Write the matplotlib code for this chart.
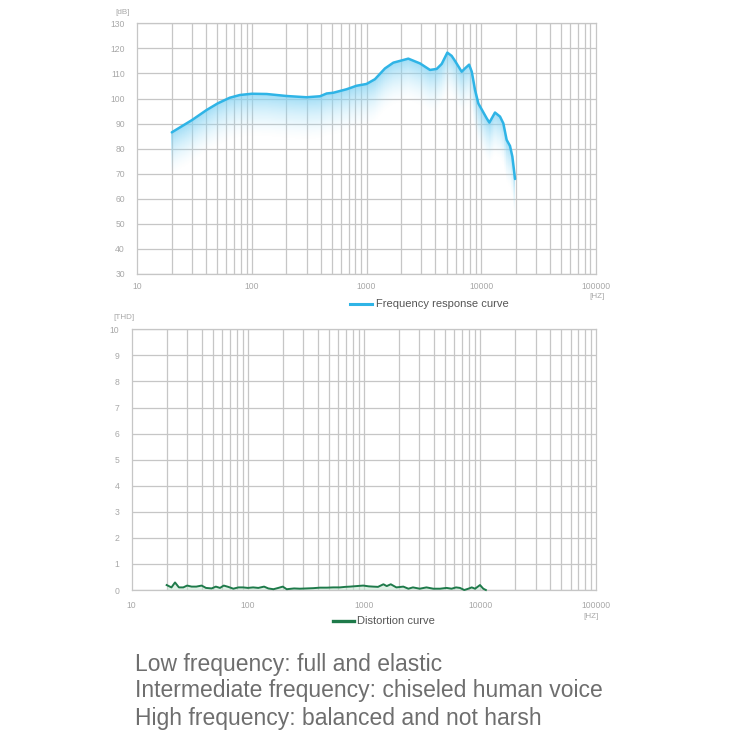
import numpy as np
import matplotlib
matplotlib.use("Agg")
import matplotlib.pyplot as plt
from matplotlib.colors import LinearSegmentedColormap

plt.rcParams['font.family'] = ['Liberation Sans', 'DejaVu Sans']

# ---- data ----
fr_freq = [20, 23.6, 30, 40.2, 50.5, 64, 78.5, 100, 134.6, 201, 300, 393, 449, 513,
           671, 820, 1000, 1185, 1449, 1714, 2317, 2930, 3582, 4095, 4532, 5073,
           5537, 5920, 6770, 7230, 7860, 8290, 8855, 9470, 11190, 11810, 13220,
           14620, 15630, 16710, 17870, 18750, 19770]
fr_db = [86.5, 88.5, 91.4, 95.4, 98.1, 100.3, 101.4, 101.9, 101.8, 101.0, 100.5, 100.9,
         102.0, 102.3, 103.7, 105.1, 105.8, 107.7, 112.0, 114.3, 115.9, 114.0, 111.4,
         111.8, 113.8, 118.3, 117.0, 115.0, 110.7, 112.0, 113.5, 110.7, 103.4, 98.0,
         92.1, 90.4, 94.4, 92.8, 90.1, 83.5, 81.1, 76.8, 67.9]

thd_freq = [20, 22, 23.6, 25.5, 27.8, 30, 32.8, 36, 40, 43.6, 48.8, 53, 57.6, 62, 67.8,
            75, 83, 91, 100, 111, 123, 138, 150, 166, 183, 200, 216, 250, 281, 320, 365,
            418, 480, 544, 620, 690, 757, 862, 985, 1100, 1200, 1320, 1470, 1570, 1700,
            1900, 2180, 2410, 2640, 3020, 3450, 3950, 4520, 5140, 5680, 6200, 6700, 7300,
            7920, 8460, 9040, 9970, 10640, 11200]
thd_val = [0.19, 0.10, 0.29, 0.10, 0.10, 0.17, 0.13, 0.13, 0.17, 0.08, 0.06, 0.13, 0.08,
           0.17, 0.12, 0.05, 0.10, 0.10, 0.08, 0.10, 0.08, 0.13, 0.06, 0.03, 0.08, 0.13,
           0.03, 0.06, 0.05, 0.06, 0.07, 0.09, 0.09, 0.10, 0.10, 0.12, 0.13, 0.15, 0.17,
           0.14, 0.13, 0.12, 0.22, 0.15, 0.22, 0.10, 0.13, 0.05, 0.10, 0.05, 0.10, 0.05,
           0.05, 0.08, 0.05, 0.10, 0.08, 0.0, 0.05, 0.10, 0.05, 0.19, 0.05, 0.0]

x_ticks = [10, 100, 1000, 10000, 100000]
x_tick_labels = ["10", "100", "1000", "10000", "100000"]
fr_yticks = list(range(30, 131, 10))
thd_yticks = list(range(0, 11, 1))

text_lines = ["Low frequency: full and elastic",
              "Intermediate frequency: chiseled human voice",
              "High frequency: balanced and not harsh"]

# ---- style ----
GRID = "#c6c6c6"
TICK = "#a8a8a8"
BLUE = "#2fb4e6"
GREEN = "#1e7a4a"

fig = plt.figure(figsize=(7.5, 7.5), dpi=100)
W = H = 750.0


def make_axes(l, t, r, b):
    return fig.add_axes([l / W, 1 - b / H, (r - l) / W, (b - t) / H])


def style(ax, ymin, ymax, yticks, xpad):
    ax.set_xscale("log")
    ax.set_xlim(10, 100000)
    ax.set_ylim(ymin, ymax)
    minor = [m * 10 ** e for e in range(1, 5) for m in range(2, 10)]
    for xv in minor + [100, 1000, 10000]:
        ax.axvline(xv, color=GRID, lw=0.9, zorder=1)
    for yv in yticks:
        ax.axhline(yv, color=GRID, lw=0.9, zorder=1)
    for s in ax.spines.values():
        s.set_color(GRID)
        s.set_linewidth(0.9)
    ax.set_xticks(x_ticks)
    ax.set_xticklabels(x_tick_labels)
    ax.xaxis.set_minor_locator(matplotlib.ticker.NullLocator())
    ax.set_yticks(yticks)
    ax.tick_params(axis="both", length=0, colors=TICK, labelsize=6.2)
    ax.tick_params(axis="y", pad=9)
    ax.tick_params(axis="x", pad=xpad)


# ---- top chart ----
ax1 = make_axes(137.3, 23.3, 595.7, 274)
style(ax1, 30, 130, fr_yticks, 6)

# gradient fill below the curve
lf = np.log10(fr_freq)
gx = np.logspace(lf[0], lf[-1], 500)
gy = np.linspace(30, 130, 500)
curve = np.interp(np.log10(gx), lf, fr_db)
dist = curve[None, :] - gy[:, None]
depth = 17.0
t = np.clip(dist / depth, 0, 1)
alpha = np.where(dist < 0, 0.0, (1 - t) ** 1.4)
ax1.pcolormesh(gx, gy, alpha, shading="nearest", zorder=2,
               cmap=LinearSegmentedColormap.from_list(
                   "g", [(0.62, 0.87, 0.97, 0.0), (0.50, 0.82, 0.95, 0.75)]),
               vmin=0, vmax=1, rasterized=True)
ax1.plot(fr_freq, fr_db, color=BLUE, lw=1.8, zorder=3, solid_capstyle="round")

fig.text(130 / W, 1 - 12 / H, "[dB]", color=TICK, fontsize=5.8, ha="right", va="center")
fig.text(597 / W, 1 - 296 / H, "[HZ]", color=TICK, fontsize=5.8, ha="center", va="center")

# legend 1
fig.add_artist(plt.Line2D([350 / W, 372 / W], [1 - 304 / H, 1 - 304 / H],
                          color=BLUE, lw=2.2, transform=fig.transFigure))
fig.text(376 / W, 1 - 304 / H, "Frequency response curve", color="#555555",
         fontsize=8, ha="left", va="center")

# ---- bottom chart ----
ax2 = make_axes(131.7, 329.3, 596.3, 590)
style(ax2, 0, 10, thd_yticks, 8)
ax2.fill_between(thd_freq, 0, thd_val, color="#bfe3cc", alpha=0.5, lw=0, zorder=2)
ax2.plot(thd_freq, thd_val, color=GREEN, lw=1.4, zorder=3, clip_on=False)

fig.text(124 / W, 1 - 317 / H, "[THD]", color=TICK, fontsize=5.8, ha="center", va="center")
fig.text(591 / W, 1 - 616 / H, "[HZ]", color=TICK, fontsize=5.8, ha="center", va="center")

fig.add_artist(plt.Line2D([333 / W, 354 / W], [1 - 621 / H, 1 - 621 / H],
                          color=GREEN, lw=2.4, transform=fig.transFigure))
fig.text(357 / W, 1 - 621 / H, "Distortion curve", color="#555555",
         fontsize=8, ha="left", va="center")

# ---- bottom text ----
for i, line in enumerate(text_lines):
    fig.text(135 / W, 1 - (664 + 27 * i) / H, line, color="#6e6e6e",
             fontsize=16.5, ha="left", va="center")

fig.savefig("out.png", dpi=100, facecolor="white")
